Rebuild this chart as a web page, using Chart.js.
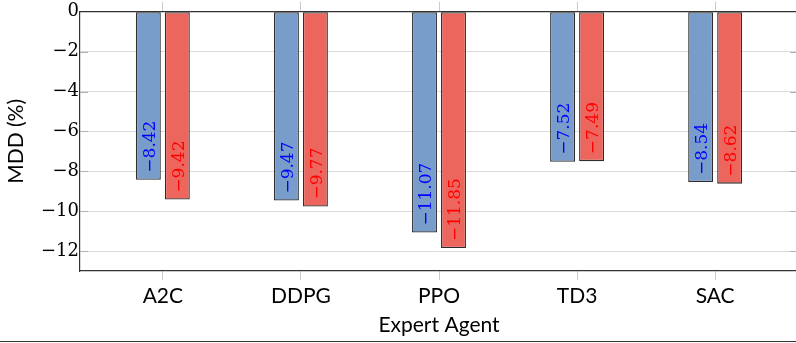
<!DOCTYPE html>
<html>
<head>
<meta charset="utf-8">
<title>MDD by expert agent</title>
<script src="https://cdn.jsdelivr.net/npm/chart.js@4.4.1/dist/chart.umd.min.js"></script>
<style>
  html, body { margin: 0; padding: 0; background: #fff; overflow: hidden; }
  #wrap { width: 796px; height: 341px; overflow: hidden; border-bottom: 1px solid #333; }
  canvas { display: block; }
</style>
</head>
<body>
<div id="wrap"><canvas id="mdd" width="798" height="341"></canvas></div>
<script>
// categories and values (MDD, %)
const agents = ['A2C', 'DDPG', 'PPO', 'TD3', 'SAC'];
const mddBlue = [-8.42, -9.47, -11.07, -7.52, -8.54];
const mddRed = [-9.42, -9.77, -11.85, -7.49, -8.62];
const yTicks = [0, -2, -4, -6, -8, -10, -12];

const SERIF = '"DejaVu Serif", serif';
const SANS = 'Lato, "Open Sans", sans-serif';

const minus = v => (v < 0 ? '\u2212' + Math.abs(v) : String(v));
const toPoints = arr => arr.map((v, i) => ({ x: i, y: v }));
const categoryTicks = scale => { scale.ticks = agents.map((_, i) => ({ value: i })); };

// value written vertically inside each bar, starting near the bar end
const barLabels = {
  id: 'barLabels',
  afterDatasetsDraw(chart) {
    const { ctx } = chart;
    ctx.save();
    ctx.font = '17px ' + SERIF;
    ctx.textAlign = 'left';
    ctx.textBaseline = 'middle';
    chart.data.datasets.forEach((ds, di) => {
      chart.getDatasetMeta(di).data.forEach((bar, i) => {
        const v = ds.data[i].y;
        ctx.save();
        ctx.translate(bar.x + 2, bar.y - 7);
        ctx.rotate(-Math.PI / 2);
        ctx.fillStyle = ds.labelColor;
        ctx.fillText('\u2212' + Math.abs(v).toFixed(2), 0, 0);
        ctx.restore();
      });
    });
    ctx.restore();
  }
};

// short inward tick marks on both vertical edges of the plot
const innerTicks = {
  id: 'innerTicks',
  afterDraw(chart) {
    const { ctx, chartArea: a, scales: { y } } = chart;
    ctx.save();
    ctx.strokeStyle = '#b0b0b0';
    ctx.lineWidth = 1;
    yTicks.slice(1).forEach(t => {
      const py = Math.round(y.getPixelForValue(t)) + 0.5;
      ctx.beginPath();
      ctx.moveTo(a.left, py); ctx.lineTo(a.left + 8, py);
      ctx.moveTo(a.right - 8, py); ctx.lineTo(a.right, py);
      ctx.stroke();
    });
    ctx.restore();
  }
};

new Chart(document.getElementById('mdd'), {
  type: 'bar',
  data: {
    datasets: [
      {
        label: 'Series 1',
        data: toPoints(mddBlue),
        backgroundColor: '#789dcb',
        borderColor: '#2e2e2e',
        borderWidth: 1.3,
        borderSkipped: false,
        labelColor: '#0000ff'
      },
      {
        label: 'Series 2',
        data: toPoints(mddRed),
        backgroundColor: '#ec665e',
        borderColor: '#2e2e2e',
        borderWidth: 1.3,
        borderSkipped: false,
        labelColor: '#ff0000'
      }
    ]
  },
  options: {
    responsive: false,
    animation: false,
    devicePixelRatio: 1,
    categoryPercentage: 0.42,
    barPercentage: 0.86,
    layout: { padding: 0 },
    plugins: {
      legend: { display: false },
      tooltip: { enabled: false }
    },
    scales: {
      x: {
        type: 'linear',
        position: 'bottom',
        offset: false,
        min: -0.6,
        max: 4.6,
        afterBuildTicks: categoryTicks,
        afterFit: s => { s.height = 70; },
        ticks: {
          autoSkip: false,
          maxRotation: 0,
          padding: 4,
          color: '#000',
          font: { family: SANS, size: 21 },
          callback: v => agents[v]
        },
        grid: { offset: false, drawOnChartArea: false, tickLength: 9, color: '#cccccc' },
        border: { color: '#333', width: 1.2 },
        title: {
          display: true,
          text: 'Expert Agent',
          color: '#000',
          font: { family: SANS, size: 21 },
          padding: { top: 0, bottom: 3 }
        }
      },
      x2: {
        type: 'linear',
        position: 'top',
        offset: false,
        min: -0.6,
        max: 4.6,
        afterBuildTicks: categoryTicks,
        afterFit: s => { s.height = 10; },
        ticks: { display: false },
        grid: { offset: false, drawOnChartArea: false, tickLength: 10, color: '#cccccc' },
        border: { color: '#333', width: 1.2 }
      },
      y: {
        min: -13,
        max: 0,
        afterBuildTicks: s => { s.ticks = yTicks.map(v => ({ value: v })); },
        afterFit: s => { s.width = 80; },
        ticks: {
          padding: 1,
          color: '#000',
          font: { family: SERIF, size: 18 },
          callback: v => minus(v)
        },
        grid: { drawTicks: false, color: '#dcdcdc', lineWidth: 1 },
        border: { color: '#333', width: 1.2 },
        title: {
          display: true,
          text: 'MDD (%)',
          color: '#000',
          font: { family: SANS, size: 21 },
          padding: { top: 4, bottom: 0 }
        }
      }
    }
  },
  plugins: [barLabels, innerTicks]
});
</script>
</body>
</html>
